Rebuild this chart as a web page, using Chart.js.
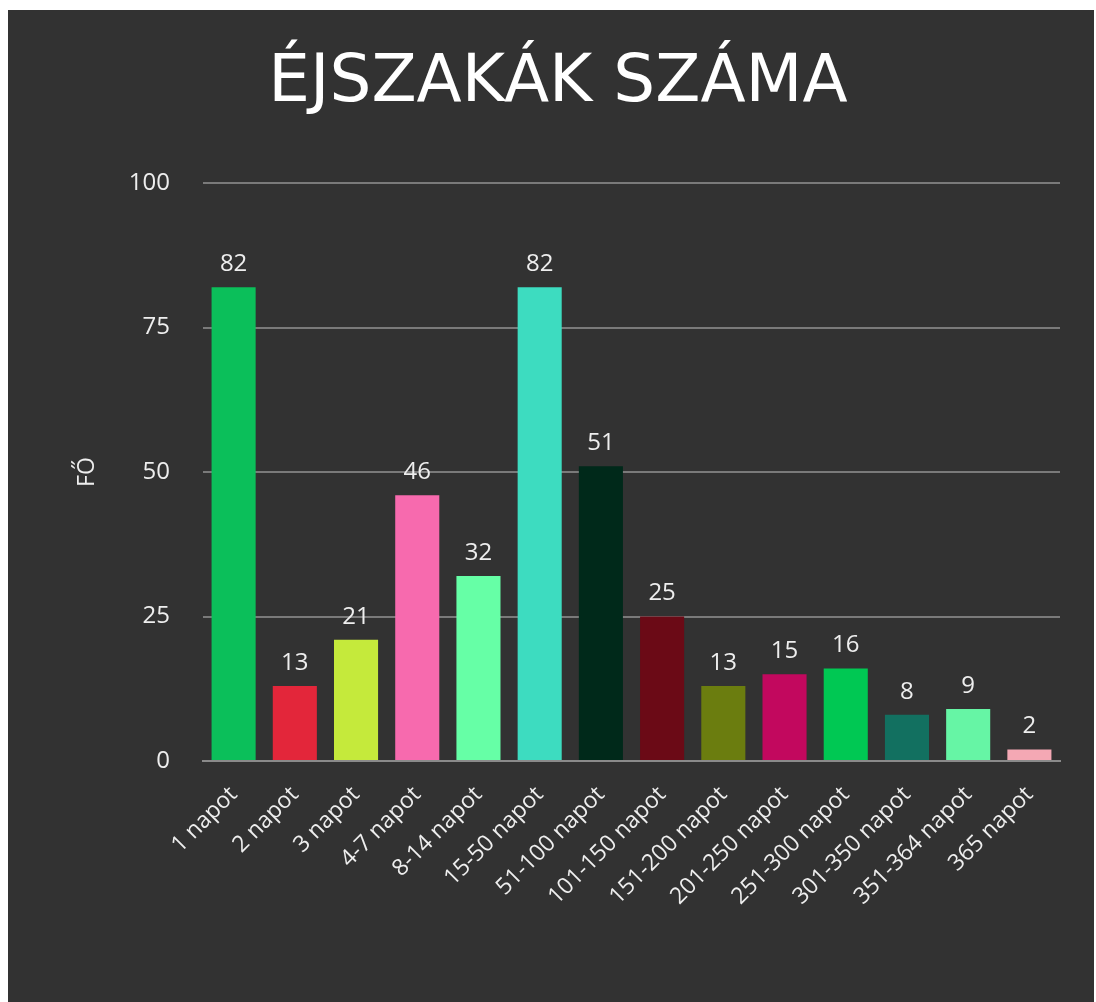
<!DOCTYPE html>
<html>
<head>
<meta charset="utf-8">
<script src="https://cdn.jsdelivr.net/npm/chart.js@4.4.1/dist/chart.umd.min.js"></script>
<style>
  html, body { margin: 0; padding: 0; background: #ffffff; overflow: hidden; }
  #wrap { position: absolute; left: 8px; top: 10px; right: 2px; bottom: 0; background: #323232; overflow: hidden; }
  canvas { display: block; }
</style>
</head>
<body>
<div id="wrap"><canvas id="c" width="1088" height="992"></canvas></div>
<script>
const categories = ["1 napot", "2 napot", "3 napot", "4-7 napot", "8-14 napot", "15-50 napot", "51-100 napot", "101-150 napot", "151-200 napot", "201-250 napot", "251-300 napot", "301-350 napot", "351-364 napot", "365 napot"];
const values = [82, 13, 21, 46, 32, 82, 51, 25, 13, 15, 16, 8, 9, 2];
const barColors = ["#0bbf5a", "#e3263a", "#c5ea3b", "#f76aae", "#66ffa6", "#3ddcc0", "#00291a", "#6b0a16", "#6b7d0f", "#c2085e", "#00c853", "#127060", "#66f5a5", "#f4a8b4"];
const yTicks = [0, 25, 50, 75, 100];
const titleText = "ÉJSZAKÁK SZÁMA";
const yTitle = "FŐ";

const FONT = "'Open Sans', 'Noto Sans', sans-serif";
const TITLE_FONT = "'DejaVu Sans', 'Open Sans', sans-serif";
const TEXT = "#eeeeee";

const valueLabels = {
  id: 'valueLabels',
  afterDatasetsDraw(chart) {
    const ctx = chart.ctx;
    const meta = chart.getDatasetMeta(0);
    ctx.save();
    ctx.font = "24px " + FONT;
    ctx.fillStyle = TEXT;
    ctx.textAlign = "center";
    ctx.textBaseline = "bottom";
    meta.data.forEach((bar, i) => {
      ctx.fillText(String(chart.data.datasets[0].data[i]), bar.x, bar.y - 11);
    });
    ctx.restore();
  }
};

new Chart(document.getElementById('c'), {
  type: 'bar',
  data: {
    labels: categories,
    datasets: [{ data: values, backgroundColor: barColors, borderWidth: 0 }]
  },
  options: {
    responsive: false,
    animation: false,
    devicePixelRatio: 1,
    layout: { padding: { left: 12, right: 0, top: 0, bottom: 0 } },
    plugins: {
      legend: { display: false },
      tooltip: { enabled: false },
      title: {
        display: true,
        text: titleText,
        color: "#ffffff",
        font: { family: TITLE_FONT, size: 66, weight: 'normal', lineHeight: 1.2 },
        padding: { top: 34, bottom: 60 }
      }
    },
    scales: {
      x: {
        grid: { display: false, drawTicks: false },
        border: { display: true, color: "#8a8a8a", width: 2 },
        ticks: { color: TEXT, font: { family: FONT, size: 23 }, maxRotation: 45, minRotation: 45, padding: 20, autoSkip: false },
        categoryPercentage: 0.72,
        barPercentage: 1.0,
        afterFit(s) { s.height = 241; }
      },
      y: {
        min: 0, max: 100,
        afterBuildTicks(s) { s.ticks = yTicks.map(v => ({ value: v })); },
        grid: { color: "#7a7a7a", lineWidth: 2, drawTicks: false },
        border: { display: false },
        ticks: { color: TEXT, font: { family: FONT, size: 24 }, padding: 33 },
        title: { display: true, text: yTitle, color: TEXT, font: { family: FONT, size: 23 }, padding: { top: 54, bottom: 0 } },
        afterFit(s) { s.width = 183; }
      },
      yRight: {
        position: 'right',
        min: 0, max: 100,
        grid: { display: false, drawTicks: false },
        border: { display: false },
        ticks: { display: false },
        afterFit(s) { s.width = 36; }
      }
    }
  },
  plugins: [valueLabels]
});
</script>
</body>
</html>
